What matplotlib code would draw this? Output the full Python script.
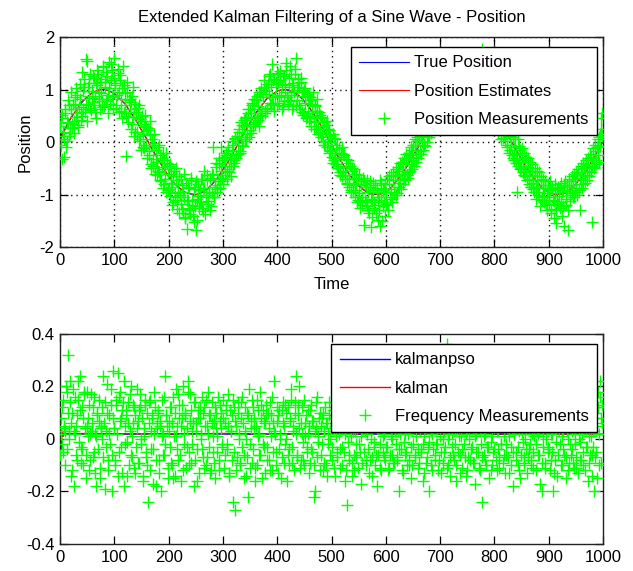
import matplotlib
matplotlib.use("Agg")
import matplotlib.pyplot as plt
import numpy as np

# === 1. Data ===
# measurements: one sample per time unit, kept as even / odd time steps
even_time = np.arange(0, 1000, 2)
odd_time = np.arange(1, 1000, 2)

position_meas_even = [
    0.30, -0.05, 0.52, 0.11, -0.28, 0.55, 0.02, 0.36, 0.71, 0.18,
    0.62, 0.27, 0.73, 0.40, 0.85, 0.48, 0.90, 0.33, 0.81, 0.57,
    1.33, 0.62, 1.05, 0.58, 1.58, 1.55, 0.71, 1.12, 0.64, 0.98,
    0.76, 1.21, 0.88, 0.45, 1.09, 1.30, 0.82, 1.15, 0.93, 0.66,
    1.42, 1.05, 0.78, 1.25, 0.90, 1.52, 0.73, 1.18, 1.38, 0.85,
    1.60, 1.08, 0.70, 1.32, 0.96, 1.27, 0.60, 1.02, 1.44, 0.55,
    0.93, -0.27, 1.15, 0.48, 0.82, 0.76, 0.35, 1.05, 0.62, 0.20,
    0.58, 0.12, 0.46, 0.71, 0.05, 0.40, -0.10, 0.31, 0.52, -0.05,
    -0.30, 0.26, -0.18, 0.14, -0.42, 0.05, -0.45, -0.02, -0.38, -0.62,
    -0.10, -0.58, -0.25, -0.75, -0.30, -0.88, -0.35, -0.70, -0.20, -0.92,
    -0.45, -1.02, -0.60, -0.85, -1.15, -0.55, -1.10, -0.72, -1.28, -0.95,
    -0.65, -1.18, -0.82, -1.35, -1.05, -1.45, -0.78, -1.65, -1.12, -0.88,
    -1.30, -0.72, -1.20, -1.52, -0.85, -1.68, -1.08, -0.80, -1.25, -0.92,
    -1.15, -0.70, -1.32, -0.88, -1.05, -0.62, -1.12, -0.95, -0.68, -1.22,
    -0.98, -0.10, -1.05, -0.82, -0.48, -0.90, -0.42, -0.75, -0.10, -0.68,
    -0.75, -0.28, -0.62, -0.20, -0.55, -0.15, -0.58, -0.40, 0.02, -0.45,
    -0.35, 0.08, -0.30, 0.12, -0.22, 0.25, -0.20, 0.38, -0.05, 0.42,
    0.02, 0.48, 0.15, 0.55, 0.10, 0.62, 0.18, 0.75, 0.30, 0.82,
    0.35, 0.88, 0.42, 0.95, 0.52, 1.02, 0.50, 0.92, 1.18, 0.60,
    1.05, 0.62, 1.25, 0.75, 1.10, 1.48, 0.72, 1.20, 0.85, 1.15,
    0.70, 1.30, 0.88, 1.18, 0.62, 1.25, 0.78, 1.10, 1.38, 0.85,
    0.72, 1.22, 1.45, 0.90, 1.08, 0.68, 1.30, 1.60, 0.80, 1.12,
    1.05, 0.62, 1.22, 0.58, 0.95, 0.55, 1.02, 0.48, 0.88, 0.40,
    0.85, 0.30, 0.72, 0.95, 0.38, 0.70, 0.25, 0.60, 0.15, 0.52,
    0.10, 0.45, 0.02, 0.38, -0.05, 0.32, -0.10, 0.25, -0.20, 0.12,
    -0.28, 0.15, -0.35, 0.05, -0.42, -0.05, -0.50, -0.12, -0.58, -0.20,
    -0.65, -0.22, -0.70, -0.32, -0.80, -0.35, -0.85, -0.45, -0.92, -0.50,
    -0.95, -0.52, -1.05, -0.60, -1.10, -0.62, -1.12, -0.75, -1.20, -0.68,
    -1.58, -0.80, -1.15, -0.72, -1.30, -0.85, -1.62, -1.10, -0.78, -1.25,
    -0.82, -1.35, -0.95, -1.48, -1.05, -1.60, -0.78, -1.22, -0.90, -1.40,
    -1.18, -0.70, -1.30, -0.65, -1.05, -0.62, -1.08, -0.58, -0.95, -0.52,
    -0.98, -0.48, -0.85, -0.40, -0.90, -0.38, -0.80, -0.30, -0.72, -0.22,
    -0.68, -0.20, -0.55, -0.10, -0.52, -0.05, -0.45, 0.05, -0.38, 0.10,
    -0.30, 0.15, -0.22, 0.25, -0.15, 0.32, -0.08, 0.40, 0.00, 0.45,
    0.10, 0.55, 0.18, 0.62, 0.25, 0.70, 0.30, 0.78, 0.35, 0.80,
    0.85, 0.40, 0.90, 0.55, 1.00, 0.52, 1.05, 0.60, 1.10, 0.68,
    1.12, 0.70, 1.20, 0.75, 1.15, 0.72, 1.25, 0.82, 1.18, 0.78,
    1.30, 0.80, 1.15, 0.75, 1.22, 0.78, 1.28, 0.85, 1.20, 0.72,
    1.18, 0.75, 1.25, 0.80, 1.10, 0.70, 1.15, 0.65, 1.05, 1.78,
    0.60, 1.02, 0.58, 0.95, 0.52, 0.90, 0.48, 0.85, 0.40, 0.78,
    0.35, 0.75, 0.30, 0.65, 0.22, 0.58, 0.15, 0.50, 0.08, 0.42,
    0.02, 0.38, -0.05, 0.30, -0.15, 0.22, -0.25, 0.10, -0.35, 0.05,
    -0.40, -0.95, -0.45, -0.08, -0.52, -0.12, -0.58, -0.20, -0.65, -0.28,
    -0.72, -0.30, -0.80, -0.38, -0.85, -0.42, -0.90, -0.50, -1.08, -0.55,
    -1.00, -0.58, -1.22, -0.65, -1.05, -0.70, -1.15, -0.75, -1.30, -0.82,
    -1.20, -0.75, -1.35, -0.88, -1.10, -1.45, -0.80, -1.55, -1.15, -0.85,
    -1.25, -0.78, -1.40, -0.92, -1.60, -0.75, -1.20, -0.82, -1.68, -0.70,
    -1.12, -0.65, -1.05, -0.60, -0.95, -0.58, -1.00, -0.52, -0.92, -1.30,
    -0.45, -0.88, -0.40, -0.78, -0.35, -0.72, -0.30, -0.65, -0.22, -0.58,
    -1.52, -0.12, -0.50, -0.05, -0.42, 0.05, -0.38, 0.15, 0.45, 0.55,
]
position_meas_odd = [
    0.45, -0.32, 0.20, 0.05, 0.62, -0.10, 0.38, 0.80, 0.12, 0.27,
    0.95, 0.35, 0.18, 0.70, 1.02, 0.55, 0.28, 0.66, 1.10, 0.42,
    0.50, 0.98, 1.20, 0.72, 0.40, 1.05, 0.88, 1.30, 0.61, 0.83,
    1.25, 0.70, 0.58, 1.12, 1.38, 0.95, 0.62, 1.20, 0.79, 1.45,
    0.68, 1.15, 1.33, 0.82, 0.55, 1.02, 1.48, 0.88, 0.62, 1.22,
    1.12, 0.65, 0.90, 1.40, 0.58, 1.18, 0.82, 0.45, 1.08, 0.70,
    0.50, 0.95, 0.38, 0.80, 0.62, 0.25, 0.88, 0.48, 0.12, 0.72,
    0.20, 0.65, 0.02, 0.44, -0.15, 0.50, 0.15, -0.12, 0.35, 0.28,
    0.22, -0.25, 0.40, -0.50, -0.05, -0.32, 0.15, -0.60, -0.15, -0.38,
    -0.55, -0.05, -0.72, -0.48, -0.20, -0.80, -0.52, -0.95, -0.40, -0.60,
    -0.90, -0.42, -0.78, -1.20, -0.65, -0.98, -0.50, -1.05, -0.80, -1.35,
    -1.00, -0.70, -1.28, -0.95, -0.60, -1.42, -1.10, -0.85, -1.25, -1.38,
    -0.68, -1.10, -1.40, -0.90, -1.22, -0.75, -1.48, -1.02, -1.15, -0.70,
    -1.25, -0.88, -0.55, -1.38, -1.00, -0.72, -1.18, -0.95, -1.30, -0.60,
    -0.62, -1.05, -0.85, -0.40, -0.95, -0.70, -0.30, -0.88, -0.55, -0.35,
    -0.80, -0.45, -0.25, -0.70, -0.10, -0.52, -0.30, -0.65, -0.18, -0.05,
    -0.40, 0.05, -0.25, -0.02, 0.20, -0.18, 0.10, 0.32, -0.08, 0.30,
    0.45, 0.05, 0.35, 0.62, 0.22, 0.48, 0.70, 0.30, 0.55, 0.38,
    0.80, 0.45, 0.68, 0.30, 0.92, 0.62, 0.85, 1.05, 0.55, 0.98,
    0.65, 1.10, 0.92, 1.30, 0.70, 0.85, 1.18, 0.60, 1.05, 1.32,
    1.15, 0.75, 1.35, 0.90, 1.08, 0.68, 1.25, 0.95, 1.50, 0.80,
    1.05, 0.78, 1.30, 0.62, 1.12, 0.95, 1.40, 0.70, 1.00, 1.20,
    0.70, 1.15, 0.88, 0.52, 1.00, 0.75, 0.45, 0.92, 0.60, 0.85,
    0.45, 0.80, 0.55, 0.25, 0.68, 0.50, 0.82, 0.30, 0.58, 0.20,
    0.48, 0.15, 0.30, -0.05, 0.25, 0.40, 0.00, 0.22, -0.18, 0.05,
    -0.15, -0.40, 0.08, -0.30, -0.12, -0.45, -0.20, -0.62, -0.28, -0.10,
    -0.55, -0.25, -0.62, -0.48, -0.78, -0.40, -0.70, -0.95, -0.55, -0.82,
    -0.68, -0.92, -0.80, -1.15, -0.70, -0.98, -1.25, -0.82, -1.05, -0.75,
    -1.10, -0.85, -1.22, -0.95, -1.35, -0.75, -1.08, -1.42, -0.92, -1.15,
    -1.20, -0.88, -1.10, -1.30, -0.72, -1.05, -1.50, -0.92, -1.15, -0.80,
    -0.95, -1.20, -0.80, -1.08, -0.90, -1.15, -0.72, -0.98, -0.65, -1.00,
    -0.62, -0.85, -0.55, -0.78, -0.60, -0.42, -0.70, -0.55, -0.35, -0.62,
    -0.30, -0.58, -0.25, -0.42, -0.15, -0.35, -0.05, -0.28, 0.02, -0.22,
    0.05, -0.18, 0.12, 0.00, 0.28, -0.05, 0.35, 0.18, 0.10, 0.42,
    0.38, 0.20, 0.50, 0.65, 0.30, 0.55, 0.72, 0.45, 0.85, 0.60,
    0.70, 0.95, 0.78, 0.62, 1.02, 0.80, 0.95, 0.72, 1.15, 0.88,
    0.92, 1.05, 0.80, 1.25, 0.95, 1.10, 0.85, 1.30, 1.00, 0.90,
    1.08, 0.92, 1.35, 0.85, 1.12, 0.95, 1.20, 0.88, 1.05, 1.25,
    0.90, 1.12, 0.85, 1.20, 0.95, 0.78, 1.05, 0.88, 1.15, 0.70,
    0.95, 0.70, 0.88, 0.62, 1.00, 0.55, 0.78, 0.48, 0.72, 0.40,
    0.62, 0.38, 0.55, 0.20, 0.48, 0.30, 0.05, 0.42, 0.15, 0.35,
    0.18, -0.10, 0.25, -0.20, 0.12, -0.05, 0.20, -0.30, -0.10, -0.22,
    -0.30, 0.05, -0.38, -0.15, -0.50, -0.25, -0.45, -0.62, -0.35, -0.55,
    -0.48, -0.70, -0.55, -0.85, -0.62, -0.78, -0.95, -0.65, -0.88, -0.72,
    -0.85, -0.95, -0.72, -1.10, -0.88, -1.02, -0.82, -1.18, -0.98, -0.90,
    -1.05, -0.92, -1.28, -0.85, -1.12, -0.98, -1.30, -0.90, -1.18, -1.02,
    -0.88, -1.15, -0.95, -1.22, -0.82, -1.08, -0.92, -1.30, -0.85, -1.00,
    -0.82, -0.98, -0.75, -1.05, -0.70, -0.88, -0.62, -0.92, -0.68, -0.80,
    -0.58, -0.80, -0.50, -0.65, -0.42, -0.62, -0.35, -0.55, -0.28, -0.45,
    -0.30, -0.48, -0.18, -0.35, -0.10, -0.25, 0.10, -0.08, 0.25, 0.12,
]

# true position and filter estimate, one value every 10 time units
line_time = np.arange(0, 1001, 10)
true_position = [
    0.09, 0.28, 0.45, 0.61, 0.75, 0.86, 0.94, 0.99, 1.00, 0.98,
    0.92, 0.83, 0.72, 0.57, 0.41, 0.23, 0.05, -0.14, -0.32, -0.49,
    -0.65, -0.78, -0.88, -0.95, -0.99, -1.00, -0.97, -0.90, -0.81, -0.68,
    -0.53, -0.37, -0.19, 0.00, 0.19, 0.37, 0.54, 0.68, 0.81, 0.90,
    0.97, 1.00, 0.99, 0.95, 0.88, 0.78, 0.64, 0.49, 0.32, 0.14,
    -0.05, -0.24, -0.41, -0.57, -0.72, -0.83, -0.92, -0.98, -1.00, -0.99,
    -0.94, -0.86, -0.74, -0.61, -0.45, -0.27, -0.09, 0.10, 0.28, 0.46,
    0.62, 0.75, 0.86, 0.94, 0.99, 1.00, 0.98, 0.92, 0.83, 0.71,
    0.57, 0.40, 0.23, 0.04, -0.15, -0.33, -0.50, -0.65, -0.78, -0.89,
    -0.96, -0.99, -1.00, -0.97, -0.90, -0.80, -0.68, -0.53, -0.36, -0.18,
    0.01,
]
position_est = [
    0.02, 0.25, 0.47, 0.60, 0.77, 0.85, 0.95, 0.98, 1.01, 0.97,
    0.93, 0.82, 0.73, 0.56, 0.42, 0.22, 0.06, -0.15, -0.31, -0.50,
    -0.64, -0.79, -0.87, -0.96, -0.98, -1.01, -0.96, -0.91, -0.80, -0.69,
    -0.52, -0.38, -0.18, -0.01, 0.20, 0.36, 0.55, 0.67, 0.82, 0.89,
    0.98, 0.99, 1.00, 0.94, 0.89, 0.77, 0.65, 0.48, 0.33, 0.13,
    -0.04, -0.25, -0.40, -0.58, -0.71, -0.84, -0.91, -0.99, -0.99, -1.00,
    -0.93, -0.87, -0.73, -0.62, -0.44, -0.28, -0.08, 0.09, 0.29, 0.45,
    0.63, 0.74, 0.87, 0.93, 1.00, 0.99, 0.99, 0.91, 0.84, 0.70,
    0.58, 0.39, 0.24, 0.03, -0.14, -0.34, -0.49, -0.66, -0.77, -0.90,
    -0.95, -1.00, -0.99, -0.98, -0.89, -0.81, -0.67, -0.54, -0.35, -0.19,
    0.02,
]

freq_meas_even = [
    -0.06, 0.02, 0.12, -0.05, 0.04, 0.03, 0.18, 0.32, 0.03, 0.22,
    -0.14, 0.10, 0.19, -0.18, 0.02, 0.05, -0.08, 0.15, 0.24, -0.03,
    0.12, -0.10, 0.17, 0.04, -0.06, 0.18, 0.08, -0.12, 0.02, 0.06,
    -0.07, 0.16, -0.13, 0.01, 0.10, -0.04, 0.07, -0.15, 0.05, 0.12,
    0.24, -0.19, 0.03, 0.21, -0.08, 0.09, -0.02, 0.13, -0.20, 0.26,
    0.04, -0.10, 0.15, 0.25, -0.05, 0.18, 0.08, -0.13, 0.14, 0.22,
    -0.02, 0.11, -0.14, 0.06, 0.17, -0.06, 0.01, 0.13, -0.11, 0.09,
    -0.03, 0.19, 0.07, -0.09, 0.12, 0.00, -0.16, 0.04, 0.15, -0.07,
    0.10, -0.24, 0.14, -0.12, 0.03, 0.08, -0.04, 0.18, -0.18, 0.06,
    0.11, -0.08, 0.05, -0.20, 0.15, 0.02, -0.06, 0.24, 0.09, -0.15,
    0.07, -0.03, 0.12, -0.10, 0.16, 0.01, -0.14, 0.19, 0.05, -0.08,
    0.13, -0.16, 0.08, 0.20, -0.02, 0.10, -0.11, 0.04, 0.22, -0.05,
    0.17, -0.09, 0.03, -0.18, 0.14, 0.06, -0.04, 0.11, -0.13, 0.08,
    0.02, 0.16, -0.07, 0.12, -0.10, 0.05, 0.18, -0.03, 0.09, -0.12,
    0.14, -0.05, 0.07, -0.15, 0.10, 0.01, -0.08, 0.13, 0.04, -0.02,
    0.15, -0.11, 0.06, 0.11, -0.04, 0.17, -0.13, 0.03, 0.09, -0.24,
    0.12, -0.27, 0.05, -0.07, 0.14, 0.00, -0.10, 0.08, 0.16, -0.06,
    0.03, -0.14, 0.10, -0.22, 0.19, -0.02, 0.07, -0.09, 0.12, 0.04,
    -0.11, 0.15, 0.01, -0.06, 0.18, 0.08, -0.15, 0.11, -0.03, 0.06,
    0.13, -0.08, 0.04, -0.12, 0.09, 0.16, -0.05, 0.22, 0.02, -0.10,
    0.07, -0.13, 0.11, 0.00, -0.07, 0.14, 0.05, -0.02, 0.10, -0.16,
    0.12, -0.04, 0.08, 0.19, -0.09, 0.03, 0.14, 0.24, -0.06, 0.09,
    0.20, -0.11, 0.06, 0.02, -0.08, 0.15, 0.01, -0.03, 0.11, 0.05,
    -0.09, 0.13, -0.05, 0.07, -0.22, -0.20, 0.04, 0.16, -0.01, 0.10,
    -0.06, 0.08, -0.12, 0.03, 0.12, -0.10, 0.06, -0.02, 0.14, 0.00,
    -0.08, 0.11, 0.04, -0.14, 0.09, -0.05, 0.13, 0.02, -0.11, 0.07,
    -0.03, 0.10, -0.16, 0.05, -0.25, 0.08, -0.06, 0.12, 0.01, -0.09,
    0.06, -0.12, 0.03, -0.07, 0.14, -0.02, 0.09, -0.17, 0.04, 0.11,
    -0.05, 0.07, -0.10, 0.02, 0.13, -0.08, 0.05, -0.14, 0.10, -0.01,
    0.08, -0.06, -0.18, 0.04, 0.12, -0.11, 0.06, 0.01, -0.07, 0.15,
    -0.03, 0.09, -0.12, 0.05, -0.06, 0.11, 0.00, -0.09, 0.07, 0.14,
    -0.08, 0.03, -0.20, 0.10, -0.04, 0.06, -0.13, 0.12, 0.02, -0.05,
    0.09, -0.10, 0.04, -0.15, 0.08, -0.02, 0.13, -0.07, 0.05, 0.16,
    -0.11, 0.06, -0.04, 0.10, -0.16, 0.01, 0.07, -0.09, 0.12, -0.03,
    -0.20, 0.08, 0.03, -0.12, 0.11, -0.06, 0.05, -0.02, 0.14, -0.08,
    0.04, -0.13, 0.09, 0.00, -0.05, 0.07, 0.36, -0.10, 0.02, -0.14,
    0.06, -0.03, 0.11, -0.08, 0.04, -0.16, 0.09, 0.01, -0.06, 0.13,
    -0.11, 0.05, -0.02, 0.08, -0.14, 0.03, -0.07, 0.10, -0.04, 0.06,
    -0.09, 0.12, -0.17, 0.02, 0.07, -0.05, 0.09, -0.12, 0.04, -0.24,
    0.01, -0.08, 0.11, -0.03, 0.06, -0.15, 0.08, -0.01, -0.10, 0.05,
    -0.04, 0.09, -0.12, 0.03, -0.07, 0.12, -0.02, 0.06, -0.09, 0.01,
    0.10, -0.06, 0.04, -0.13, 0.08, -0.03, 0.07, -0.18, 0.02, 0.11,
    -0.05, 0.06, -0.10, 0.03, -0.15, 0.09, -0.01, -0.07, 0.12, 0.04,
    -0.13, 0.05, -0.04, 0.10, -0.08, 0.02, -0.11, 0.07, -0.02, 0.14,
    -0.06, 0.03, -0.17, 0.08, -0.20, 0.01, 0.11, -0.09, 0.05, -0.03,
    0.07, -0.12, 0.02, -0.05, -0.20, 0.10, -0.08, 0.04, -0.14, 0.06,
    -0.02, 0.09, -0.10, 0.03, -0.06, 0.12, -0.15, 0.05, 0.00, -0.09,
    0.08, -0.04, 0.11, -0.11, 0.02, -0.07, 0.06, -0.13, 0.10, -0.01,
    -0.08, 0.04, -0.10, 0.07, -0.03, 0.12, -0.16, 0.01, -0.06, 0.09,
    -0.14, 0.03, -0.20, 0.10, -0.05, 0.18, -0.10, 0.22, 0.08, 0.13,
]
freq_meas_odd = [
    0.08, -0.02, 0.15, 0.05, -0.10, 0.20, -0.04, 0.10, 0.00, 0.14,
    0.06, -0.12, 0.03, 0.16, -0.06, 0.09, 0.22, -0.01, 0.11, -0.09,
    -0.04, 0.08, 0.18, -0.15, 0.05, 0.01, 0.13, -0.08, 0.17, 0.03,
    0.12, -0.05, 0.02, -0.18, 0.09, 0.15, -0.11, 0.04, 0.00, -0.07,
    0.06, 0.14, -0.03, 0.10, -0.12, 0.02, 0.19, -0.06, 0.08, 0.04,
    -0.08, 0.13, 0.02, -0.14, 0.16, 0.07, -0.03, 0.11, -0.18, 0.05,
    0.09, -0.01, 0.14, -0.10, 0.03, 0.20, -0.07, 0.06, 0.12, -0.13,
    0.04, -0.09, 0.11, 0.17, -0.02, 0.08, -0.14, 0.01, 0.13, -0.05,
    -0.10, 0.06, 0.15, -0.04, 0.09, -0.17, 0.02, 0.12, -0.08, 0.04,
    0.10, -0.13, 0.07, 0.01, -0.06, 0.16, -0.02, 0.09, 0.05, -0.11,
    0.03, 0.12, -0.09, 0.06, -0.15, 0.10, 0.01, -0.04, 0.17, 0.08,
    -0.06, 0.05, 0.13, -0.12, 0.02, 0.09, -0.03, 0.18, -0.10, 0.07,
    0.11, -0.02, 0.06, 0.14, -0.08, 0.03, -0.16, 0.08, 0.12, 0.00,
    -0.04, 0.10, -0.11, 0.05, 0.15, -0.07, 0.02, 0.09, -0.13, 0.06,
    0.01, -0.09, 0.12, 0.04, -0.05, 0.16, -0.12, 0.07, 0.10, -0.03,
    0.08, -0.06, 0.13, -0.02, 0.05, -0.14, 0.11, 0.03, -0.08, 0.15,
    -0.05, 0.07, -0.12, 0.10, 0.02, -0.09, 0.14, -0.03, 0.06, -0.15,
    0.12, 0.00, -0.07, 0.09, -0.11, 0.04, 0.15, -0.04, 0.08, -0.16,
    0.05, -0.10, 0.11, 0.02, -0.06, 0.13, -0.02, 0.07, -0.13, 0.09,
    -0.03, 0.10, -0.08, 0.14, 0.01, -0.12, 0.06, 0.03, -0.05, 0.12,
    0.09, -0.04, 0.02, -0.15, 0.11, 0.06, -0.09, 0.13, 0.00, -0.06,
    -0.10, 0.07, 0.15, -0.03, 0.05, -0.12, 0.10, 0.02, -0.07, 0.13,
    0.04, -0.08, 0.12, -0.01, -0.10, 0.06, 0.09, -0.05, 0.02, -0.13,
    0.11, -0.04, 0.07, -0.10, 0.03, 0.14, -0.07, 0.01, 0.08, -0.12,
    0.05, -0.02, 0.10, -0.09, 0.06, -0.14, 0.02, 0.09, -0.06, 0.04,
    -0.03, 0.08, -0.11, 0.05, 0.01, -0.07, 0.12, -0.04, 0.06, -0.10,
    0.07, -0.05, 0.02, -0.12, 0.10, -0.01, -0.08, 0.05, -0.14, 0.03,
    -0.06, 0.09, -0.02, 0.04, -0.11, 0.07, -0.05, 0.01, -0.09, 0.06,
    0.03, -0.08, 0.10, -0.04, -0.13, 0.05, 0.00, -0.07, 0.08, -0.03,
    -0.10, 0.04, -0.06, 0.09, -0.02, -0.12, 0.06, -0.05, 0.02, -0.08,
    0.05, -0.03, -0.11, 0.07, 0.01, -0.06, 0.10, -0.09, 0.03, -0.02,
    -0.07, 0.06, -0.04, 0.02, -0.12, 0.08, -0.01, -0.06, 0.04, -0.10,
    0.02, -0.08, 0.07, -0.03, -0.10, 0.05, -0.06, 0.01, 0.09, -0.04,
    -0.09, 0.03, -0.05, 0.08, -0.02, -0.13, 0.04, -0.07, 0.06, -0.01,
    0.05, -0.10, 0.02, -0.04, 0.07, -0.08, -0.02, 0.04, -0.12, 0.01,
    -0.05, 0.06, -0.09, 0.03, -0.03, 0.08, -0.11, 0.00, 0.05, -0.07,
    0.02, -0.06, 0.09, -0.02, -0.10, 0.04, -0.05, 0.07, -0.13, 0.01,
    -0.04, 0.08, -0.07, 0.02, -0.12, 0.05, 0.00, -0.08, 0.06, -0.03,
    0.04, -0.09, 0.01, -0.05, 0.07, -0.11, 0.03, -0.02, -0.07, 0.05,
    -0.06, 0.02, -0.10, 0.06, -0.03, 0.09, -0.12, 0.01, -0.05, 0.04,
    0.07, -0.08, 0.03, -0.04, -0.11, 0.05, -0.02, 0.08, -0.06, -0.13,
    -0.02, 0.06, -0.07, 0.01, 0.09, -0.10, 0.04, -0.05, 0.02, -0.08,
    0.05, -0.03, -0.12, 0.07, -0.06, 0.02, 0.10, -0.09, 0.00, -0.04,
    -0.07, 0.04, -0.02, -0.10, 0.06, -0.05, 0.01, 0.09, -0.12, 0.03,
    0.02, -0.06, 0.08, -0.09, -0.03, 0.05, -0.11, 0.00, 0.07, -0.05,
    -0.04, 0.06, -0.08, 0.02, -0.13, 0.04, -0.01, 0.09, -0.06, 0.03,
    0.05, -0.10, 0.01, -0.04, 0.08, -0.07, 0.03, -0.12, 0.06, -0.02,
    -0.06, 0.03, -0.09, 0.07, -0.02, -0.11, 0.05, 0.00, -0.08, 0.04,
    0.02, -0.05, 0.09, -0.12, 0.04, -0.03, 0.07, -0.09, 0.01, -0.06,
    -0.03, 0.08, -0.07, 0.05, -0.15, 0.12, 0.02, 0.16, -0.09, 0.06,
]

est_time = [0, 2, 4, 6, 8, 10, 50, 100, 150, 200, 250, 300, 350, 400, 450,
            500, 550, 600, 650, 700, 750, 800, 850, 900, 950, 1000]
kalman_freq = [0.05, -0.04, 0.03, 0.01, 0.025, 0.02, 0.021, 0.020, 0.020,
               0.019, 0.020, 0.021, 0.020, 0.020, 0.019, 0.020, 0.020, 0.021,
               0.020, 0.019, 0.020, 0.020, 0.020, 0.019, 0.020, 0.018]
kalmanpso_freq = [0.02, 0.01, 0.015, 0.018, 0.02, 0.019, 0.019, 0.018, 0.019,
                  0.018, 0.019, 0.019, 0.018, 0.019, 0.018, 0.019, 0.018,
                  0.019, 0.019, 0.018, 0.019, 0.018, 0.019, 0.018, 0.019, 0.017]

meas_time = np.concatenate([even_time, odd_time])
position_meas = np.array(position_meas_even + position_meas_odd)
freq_meas = np.array(freq_meas_even + freq_meas_odd)

# === 2. Figure and axes placed like the MATLAB figure ===
plt.rcParams["font.family"] = ["Liberation Sans", "DejaVu Sans"]
plt.rcParams["axes.unicode_minus"] = False
fig = plt.figure(figsize=(6.33, 5.71), dpi=100)
ax1 = fig.add_axes([0.0948, 0.5674, 0.8578, 0.3678])
ax2 = fig.add_axes([0.0948, 0.0473, 0.8578, 0.3678])

green = "#00FF00"
meas_style = dict(linestyle="none", marker="+", markersize=8.5,
                  markeredgewidth=1.0, color=green)

# === 3. Position subplot ===
ax1.plot(line_time, true_position, color="#0000FF", lw=0.8, label="True Position", zorder=2)
ax1.plot(line_time, position_est, color="#FF0000", lw=0.8, label="Position Estimates", zorder=2)
ax1.plot(meas_time, position_meas, label="Position Measurements", zorder=3, **meas_style)
ax1.set_xlim(0, 1000)
ax1.set_ylim(-2, 2)
ax1.set_xticks(np.arange(0, 1001, 100))
ax1.set_yticks([-2, -1, 0, 1, 2])
ax1.grid(True, color="#111111", linestyle=(0, (1, 2.8)), linewidth=1.0)
ax1.set_xlabel("Time", fontsize=12, labelpad=7)
ax1.set_ylabel("Position", fontsize=12, labelpad=5)
ax1.set_title("Extended Kalman Filtering of a Sine Wave - Position", fontsize=12, pad=11)

# === 4. Frequency subplot ===
ax2.plot(est_time, kalmanpso_freq, color="#0000FF", lw=1.0, label="kalmanpso", zorder=2)
ax2.plot(est_time, kalman_freq, color="#FF0000", lw=1.0, label="kalman", zorder=2)
ax2.plot(meas_time, freq_meas, label="Frequency Measurements", zorder=3, **meas_style)
ax2.set_xlim(0, 1000)
ax2.set_ylim(-0.4, 0.4)
ax2.set_xticks(np.arange(0, 1001, 100))
ax2.set_yticks([-0.4, -0.2, 0, 0.2, 0.4])
ax2.set_yticklabels(["-0.4", "-0.2", "0", "0.2", "0.4"])

# === 5. Common MATLAB look: boxed axes, inward ticks, square legends ===
for ax in (ax1, ax2):
    ax.set_axisbelow(True)
    ax.tick_params(direction="in", top=True, right=True, length=5.5,
                   width=0.9, labelsize=12, pad=4)
    for spine in ax.spines.values():
        spine.set_linewidth(1.0)
        spine.set_color("#222222")
    leg = ax.legend(loc="upper right", bbox_to_anchor=(0.989, 0.952),
                    borderaxespad=0, fontsize=12, fancybox=False,
                    framealpha=1, edgecolor="black", handlelength=3.0,
                    handletextpad=0.3, labelspacing=0.8, borderpad=0.5,
                    numpoints=1)
    leg.get_frame().set_linewidth(1.0)
    leg.set_zorder(10)

fig.savefig("out.png", dpi=100)
